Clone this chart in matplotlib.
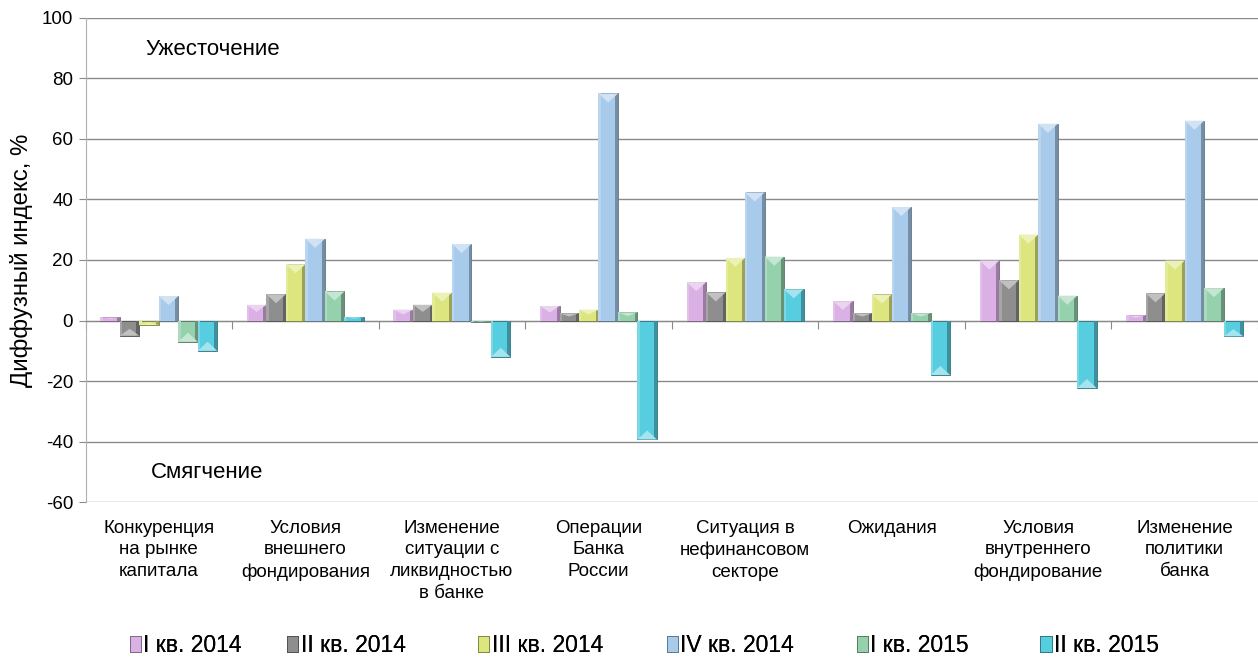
"""
Diffusion index of credit standards by factor, quarterly bars.
"""
import numpy as np
import matplotlib.pyplot as plt
from matplotlib.patches import Polygon
from matplotlib.colors import to_rgb

plt.rcParams["font.family"] = ["Liberation Sans", "DejaVu Sans"]

CATEGORIES = [
    "Конкуренция\nна рынке\nкапитала",
    "Условия\nвнешнего\nфондирования",
    "Изменение\nситуации с\nликвидностью\nв банке",
    "Операции\nБанка\nРоссии",
    "Ситуация в\nнефинансовом\nсекторе",
    "Ожидания",
    "Условия\nвнутреннего\nфондирование",
    "Изменение\nполитики\nбанка",
]

SERIES = ["I кв. 2014", "II кв. 2014", "III кв. 2014", "IV кв. 2014", "I кв. 2015", "II кв. 2015"]

Q1_2014 = [1.0, 5.2, 3.6, 4.8, 12.7, 6.4, 19.8, 1.7]
Q2_2014 = [-5.0, 8.7, 5.2, 2.4, 9.3, 2.4, 13.3, 9.0]
Q3_2014 = [-1.4, 18.6, 9.2, 3.6, 20.7, 8.6, 28.4, 19.8]
Q4_2014 = [8.1, 27.0, 25.3, 75.0, 42.3, 37.5, 65.0, 66.0]
Q1_2015 = [-7.0, 9.6, -0.5, 2.7, 21.1, 2.4, 8.2, 10.7]
Q2_2015 = [-10.0, 1.1, -12.0, -39.3, 10.3, -18.0, -22.3, -5.2]

COLORS = ["#dbb0e4", "#8e8e8e", "#dde67e", "#a9cbeb", "#96d1ae", "#57cde0"]

# left edge of each legend entry, as a fraction of figure width
LEGEND_X = [0.103, 0.228, 0.380, 0.530, 0.681, 0.827]


def shade(color, factor):
    r, g, b = to_rgb(color)
    if factor >= 1:
        return tuple(c + (1 - c) * (factor - 1) for c in (r, g, b))
    return tuple(c * factor for c in (r, g, b))


def bevel(ax, bar, color):
    # bevelled look: light top face, dark right side
    x, y = bar.get_x(), bar.get_y()
    w, h = bar.get_width(), bar.get_height()
    if h == 0:
        return
    lo, hi = min(y, y + h), max(y, y + h)
    dy = min(abs(h) * 0.45, 3.0)
    if h > 0:
        tri = [(x, hi), (x + w, hi), (x + w / 2, hi - dy)]
    else:
        tri = [(x, lo), (x + w, lo), (x + w / 2, lo + dy)]
    ax.add_patch(Polygon([(x + w * 0.85, lo), (x + w, lo), (x + w, hi), (x + w * 0.85, hi)],
                         closed=True, facecolor=shade(color, 0.7), edgecolor="none", zorder=3.05))
    ax.add_patch(Polygon([(x, lo), (x + w * 0.12, lo), (x + w * 0.12, hi), (x, hi)],
                         closed=True, facecolor=shade(color, 1.2), edgecolor="none", zorder=3.05))
    ax.add_patch(Polygon(tri, closed=True, facecolor=shade(color, 1.45),
                         edgecolor="none", zorder=3.1))


def main():
    values = [Q1_2014, Q2_2014, Q3_2014, Q4_2014, Q1_2015, Q2_2015]
    fig = plt.figure(figsize=(12.58, 6.59), dpi=100)
    ax = fig.add_axes([0.068, 0.238, 0.932, 0.735])

    n = len(CATEGORIES)
    x = np.arange(n)
    width = 0.133
    handles = []
    for i, (name, vals, col) in enumerate(zip(SERIES, values, COLORS)):
        pos = x + (i - 2.5) * width
        bars = ax.bar(pos, vals, width=width, color=col, edgecolor=shade(col, 0.55),
                      linewidth=0.6, zorder=3, label=name)
        for b in bars:
            bevel(ax, b, col)
        handles.append(bars)

    ax.set_xlim(-0.5, n - 0.5)
    ax.set_ylim(-60, 100)
    ax.set_yticks(range(-60, 101, 20))
    ax.set_yticklabels([str(v) for v in range(-60, 101, 20)])
    ax.yaxis.grid(True, color="#8a8a8a", linewidth=1.0, zorder=0)
    ax.set_axisbelow(True)
    ax.tick_params(axis="y", labelsize=13.5, length=5, color="#8a8a8a", pad=4)
    ax.set_ylabel("Диффузный индекс, %", fontsize=17.3)
    ax.yaxis.set_label_coords(-0.045, 0.5)

    for side in ["top", "right"]:
        ax.spines[side].set_visible(False)
    ax.spines["left"].set_color("#b0b0b0")
    ax.spines["bottom"].set_position(("data", 0))
    ax.spines["bottom"].set_color("#8a8a8a")
    ax.set_xticks(np.arange(n + 1) - 0.5)
    ax.set_xticklabels([])
    ax.tick_params(axis="x", length=6, color="#8a8a8a", direction="out")

    for xi, label in zip(x, CATEGORIES):
        ax.text(xi, -0.036, label, transform=ax.get_xaxis_transform(),
                ha="center", va="top", fontsize=13.5, linespacing=1.36)

    ax.text(0.37, 89.5, "Ужесточение", ha="center", va="center", fontsize=16)
    ax.text(0.33, -50.2, "Смягчение", ha="center", va="center", fontsize=16)

    # Excel spaces legend entries on a fixed grid, so place each one separately
    for h, name, lx in zip(handles, SERIES, LEGEND_X):
        leg = fig.legend(handles=[h], labels=[name], loc="center left",
                         bbox_to_anchor=(lx, 0.021), frameon=False, fontsize=16.5,
                         borderpad=0, borderaxespad=0, handlelength=0.5,
                         handleheight=0.7, handletextpad=0.1)
        fig.add_artist(leg)

    fig.savefig("out.png", dpi=100)
    plt.close(fig)


if __name__ == "__main__":
    main()
